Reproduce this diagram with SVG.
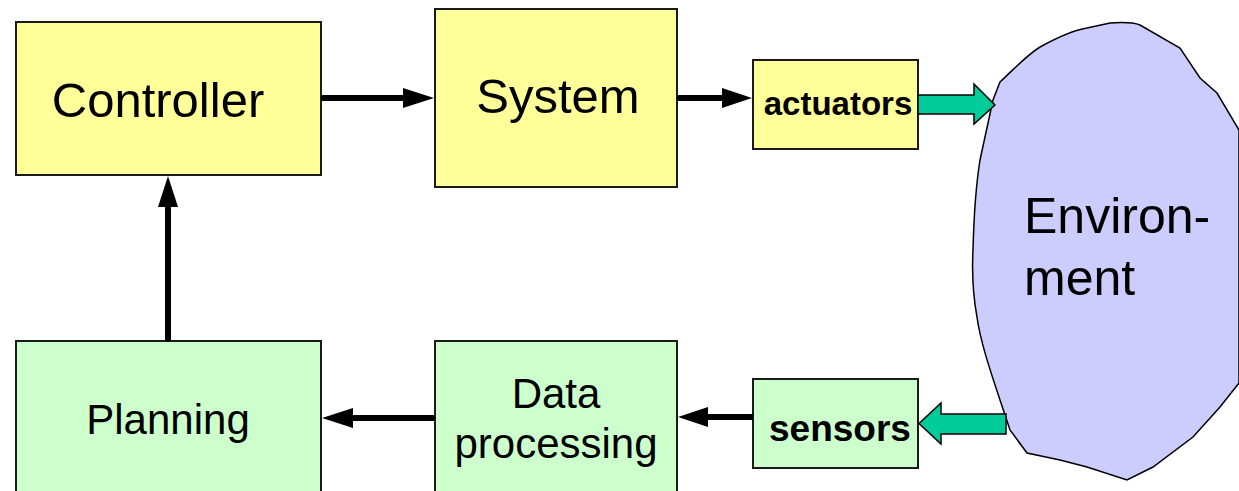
<svg xmlns="http://www.w3.org/2000/svg" width="1239" height="491" viewBox="0 0 1239 491">
  <style>
    .box { stroke: #1a1a1a; stroke-width: 2; }
    .yellow { fill: #FFFF99; }
    .green { fill: #CCFFCC; }
    .label { font-family: "Liberation Sans", Arial, sans-serif; fill: #000; text-anchor: middle; }
    .bold { font-weight: bold; }
    .wire { stroke: #000; stroke-width: 6; fill: none; }
    .head { fill: #000; }
    .flow { fill: #00CC99; stroke: #000; stroke-width: 1.5; stroke-linejoin: miter; }
  </style>

  <!-- Environment blob -->
  <g id="environment">
    <path d="M1110,23 C1125,22 1135,23 1140,25 L1180,48 L1200,78 L1217,93 L1239,130 L1239,383 L1220,407 L1193,437 L1153,467 L1127,480 L1087,467 L1060,460 L1027,453 L1010,430 L1000,400 C990,370 980,340 977,317 C972,290 972,270 973,250 C974,210 976,185 980,160 L993,100 L1000,82 C1015,68 1027,55 1040,47 C1060,36 1075,30 1087,28 Z" fill="#CCCCFF" stroke="#000" stroke-width="1.5"/>
    <text class="label" x="1024" y="233" font-size="50" style="text-anchor:start">Environ-</text>
    <text class="label" x="1024" y="295" font-size="50" style="text-anchor:start">ment</text>
  </g>

  <g id="controller">
    <rect class="box yellow" x="16" y="22" width="305" height="153"/>
    <text class="label" x="158" y="117" font-size="49">Controller</text>
  </g>

  <g id="system">
    <rect class="box yellow" x="435" y="9" width="242" height="178"/>
    <text class="label" x="558" y="113" font-size="49">System</text>
  </g>

  <g id="actuators">
    <rect class="box yellow" x="753" y="60" width="165" height="89"/>
    <text class="label bold" x="838" y="115" font-size="33">actuators</text>
  </g>

  <g id="planning">
    <rect class="box green" x="16" y="341" width="305" height="160"/>
    <text class="label" x="168" y="434" font-size="42">Planning</text>
  </g>

  <g id="data-processing">
    <rect class="box green" x="435" y="341" width="242" height="160"/>
    <text class="label" x="556" y="408" font-size="42">Data</text>
    <text class="label" x="556" y="458" font-size="42">processing</text>
  </g>

  <g id="sensors">
    <rect class="box green" x="753" y="379" width="165" height="89"/>
    <text class="label bold" x="840" y="441" font-size="37">sensors</text>
  </g>

  <g id="connectors">
    <!-- Controller to System -->
    <line class="wire" x1="321" y1="98" x2="405" y2="98"/>
    <polygon class="head" points="434,98 403,88 403,108"/>
    <!-- System to actuators -->
    <line class="wire" x1="677" y1="98" x2="724" y2="98"/>
    <polygon class="head" points="752,98 722,88 722,108"/>
    <!-- sensors to Data processing -->
    <line class="wire" x1="753" y1="417" x2="706" y2="417"/>
    <polygon class="head" points="678,417 708,407 708,427"/>
    <!-- Data processing to Planning -->
    <line class="wire" x1="435" y1="418" x2="350" y2="418"/>
    <polygon class="head" points="322,418 353,408 353,428"/>
    <!-- Planning to Controller -->
    <line class="wire" x1="168" y1="341" x2="168" y2="204"/>
    <polygon class="head" points="168,176 158,207 178,207"/>
    <!-- actuators into the environment -->
    <polygon class="flow" points="918,95 974,95 974,84 995,105 974,124 974,114 918,114"/>
    <!-- environment out to sensors -->
    <polygon class="flow" points="1006,414 941,414 941,403 919,423.5 941,444 941,434 1006,434"/>
  </g>
</svg>
